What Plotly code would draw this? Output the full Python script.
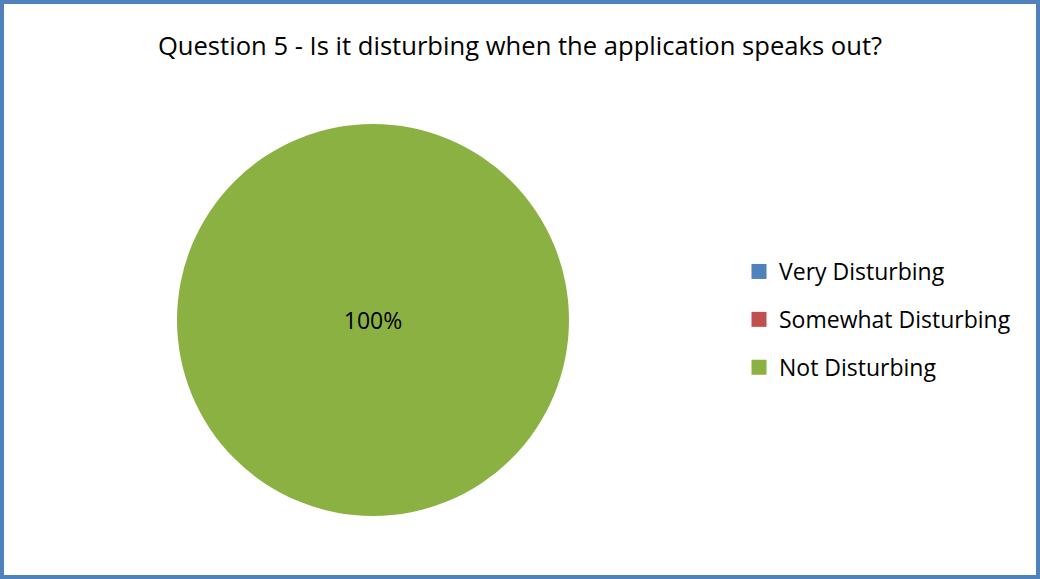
import plotly.graph_objects as go

# Survey answers for question 5
categories = ["Very Disturbing", "Somewhat Disturbing", "Not Disturbing"]
responses = [0, 0, 100]
colors = ["#4F81BD", "#C0504D", "#8BB143"]

title_text = "Question 5 - Is it disturbing when the application speaks out?"

W, H = 1040, 579
FONT = "'Open Sans', 'Noto Sans', sans-serif"

fig = go.Figure()

# The pie itself, drawn from all answers
fig.add_trace(go.Pie(
    labels=categories,
    values=responses,
    marker=dict(colors=colors, line=dict(width=0)),
    textinfo="percent",
    texttemplate="%{percent:.0%}",
    textposition="inside",
    insidetextorientation="horizontal",
    textfont=dict(family=FONT, size=23, color="#000000"),
    sort=False,
    direction="clockwise",
    rotation=90,
    domain=dict(x=[0.1702, 0.5471], y=[0.1088, 0.7858]),
    showlegend=False,
    hoverinfo="label+percent",
))

# Legend entries (one per answer, including the empty ones)
for i, (cat, col) in enumerate(zip(categories, colors)):
    fig.add_trace(go.Scatter(
        x=[None], y=[None],
        mode="markers",
        name=cat,
        marker=dict(symbol="square", size=15, color=col),
        legendgroup=f"g{i}",
        showlegend=True,
        hoverinfo="skip",
    ))

fig.update_layout(
    width=W,
    height=H,
    margin=dict(l=0, r=0, t=0, b=0),
    paper_bgcolor="#FFFFFF",
    plot_bgcolor="#FFFFFF",
    xaxis=dict(visible=False),
    yaxis=dict(visible=False),
    title=dict(
        text=title_text,
        x=0.5,
        xanchor="center",
        y=1 - 46 / H,
        yanchor="middle",
        font=dict(family=FONT, size=25.6, color="#000000"),
    ),
    legend=dict(
        x=739 / W,
        xanchor="left",
        y=1 - 250 / H,
        yanchor="top",
        font=dict(family=FONT, size=23, color="#000000"),
        tracegroupgap=15,
        itemsizing="trace",
        bgcolor="rgba(0,0,0,0)",
    ),
    shapes=[
        dict(
            type="rect", xref="paper", yref="paper",
            x0=2 / W, x1=1 - 2 / W, y0=2 / H, y1=1 - 2 / H,
            line=dict(color="#4F81BD", width=4),
            fillcolor="rgba(0,0,0,0)",
        )
    ],
)

fig.write_html("out.html")
